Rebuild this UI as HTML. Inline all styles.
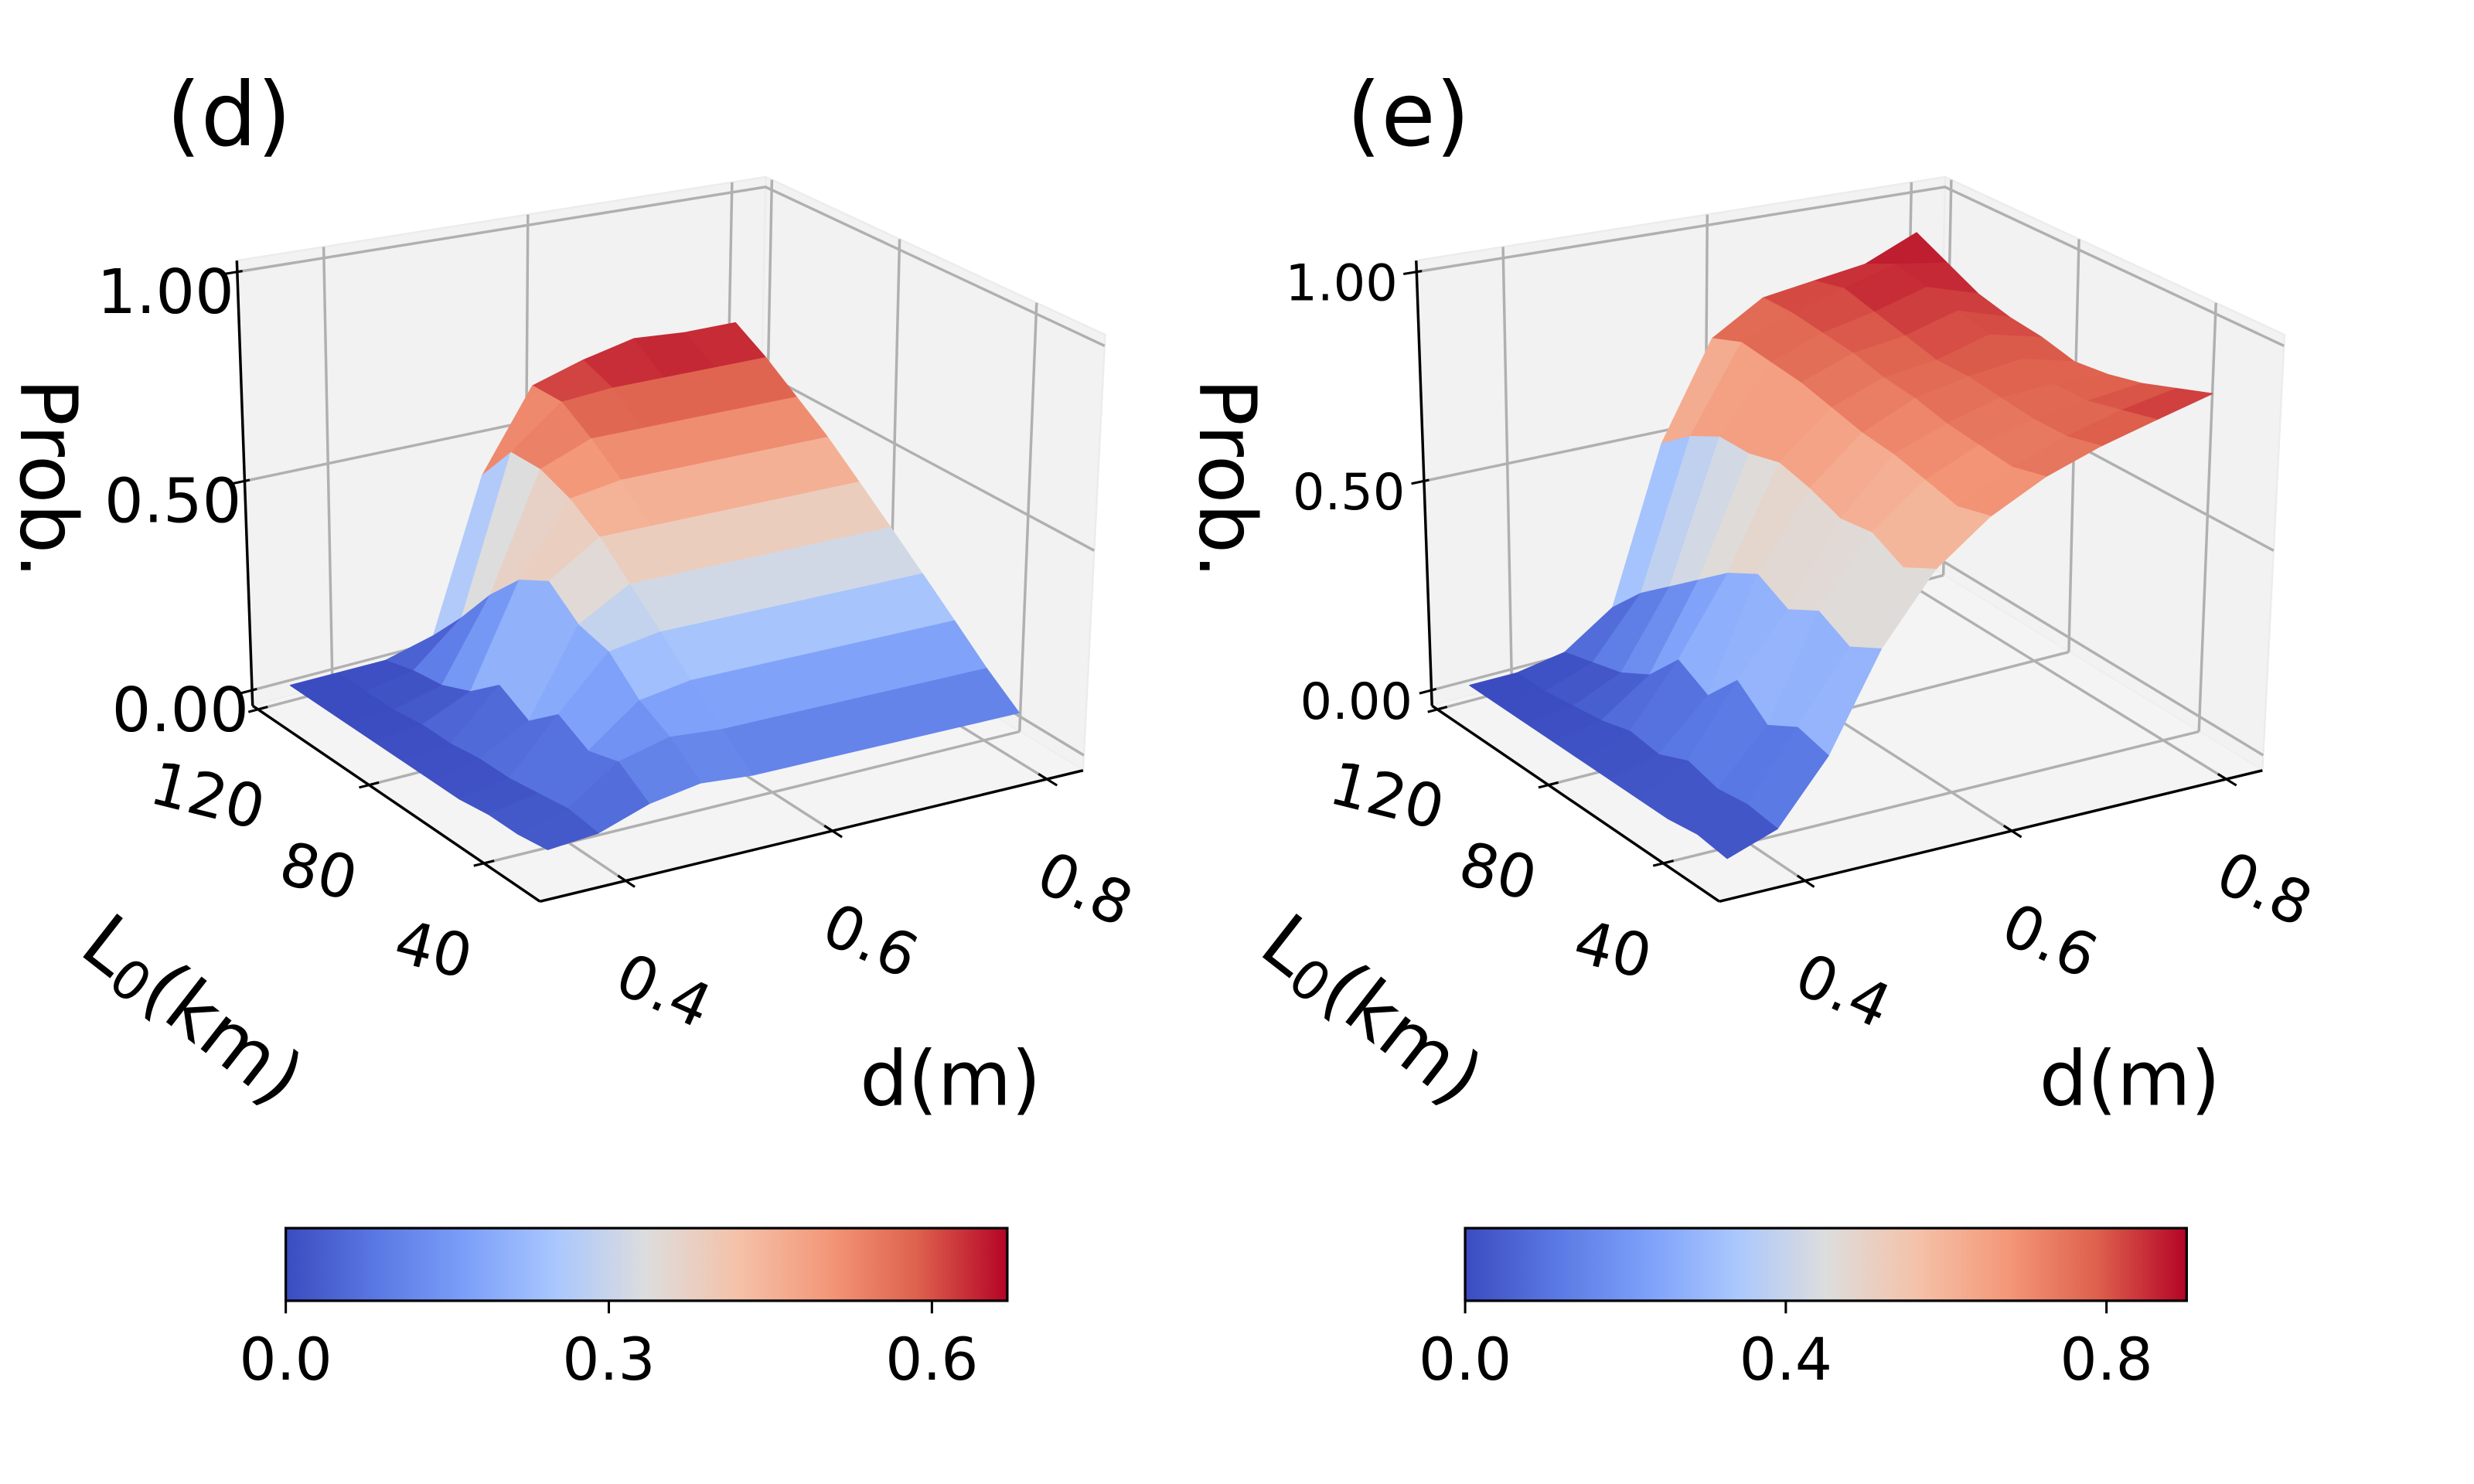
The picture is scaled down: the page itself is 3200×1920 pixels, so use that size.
<!DOCTYPE html>
<html>
<head>
<meta charset="utf-8">
<style>
html,body{margin:0;padding:0;background:#fff;}
svg{display:block;}
text{font-family:"DejaVu Sans","Liberation Sans",sans-serif;fill:#000;}
</style>
</head>
<body>
<svg id="chart" xmlns="http://www.w3.org/2000/svg" width="3200" height="1920" viewBox="0 0 1567 940">
<defs>
<linearGradient id="cwgrad" x1="0" y1="0" x2="1" y2="0"></linearGradient>
</defs>
<rect x="0" y="0" width="1567" height="940" fill="#ffffff"></rect>
</svg>
<script>
// ---- data ----
const dVals = [0.35, 0.40, 0.45, 0.50, 0.55, 0.60, 0.65, 0.70, 0.75, 0.80];
const L0Vals = [30, 40, 50, 60, 70, 80, 90, 100, 110, 120];
const probD = [
  [0.02,0.03,0.07,0.09,0.08,0.08,0.08,0.08,0.08,0.08],
  [0.01,0.04,0.12,0.15,0.14,0.14,0.14,0.14,0.14,0.14],
  [0.01,0.03,0.10,0.19,0.21,0.21,0.21,0.21,0.21,0.21],
  [0.00,0.02,0.14,0.26,0.28,0.28,0.28,0.28,0.28,0.28],
  [0.00,0.02,0.08,0.28,0.35,0.35,0.35,0.35,0.35,0.35],
  [0.00,0.01,0.12,0.34,0.42,0.42,0.42,0.42,0.42,0.42],
  [0.00,0.01,0.06,0.30,0.47,0.49,0.49,0.49,0.49,0.49],
  [0.00,0.00,0.03,0.22,0.50,0.55,0.55,0.55,0.55,0.55],
  [0.00,0.00,0.02,0.12,0.50,0.60,0.61,0.61,0.61,0.61],
  [0.00,0.00,0.00,0.03,0.40,0.60,0.64,0.67,0.66,0.66]
];
const probE = [
  [0.00,0.04,0.18,0.40,0.56,0.66,0.73,0.78,0.82,0.86],
  [0.01,0.05,0.20,0.36,0.52,0.64,0.71,0.76,0.80,0.83],
  [0.00,0.04,0.16,0.40,0.56,0.66,0.72,0.76,0.78,0.80],
  [0.00,0.06,0.22,0.36,0.55,0.68,0.73,0.77,0.78,0.78],
  [0.00,0.03,0.14,0.40,0.58,0.69,0.75,0.78,0.80,0.77],
  [0.00,0.04,0.18,0.36,0.60,0.71,0.76,0.78,0.82,0.79],
  [0.00,0.02,0.10,0.30,0.58,0.73,0.78,0.80,0.84,0.80],
  [0.00,0.01,0.06,0.24,0.58,0.74,0.79,0.82,0.86,0.82],
  [0.00,0.00,0.04,0.18,0.54,0.75,0.80,0.84,0.88,0.86],
  [0.00,0.00,0.02,0.10,0.48,0.72,0.80,0.82,0.84,0.90]
];
const dTicks = [0.4, 0.6, 0.8];
const dTickLabels = ["0.4", "0.6", "0.8"];
const LTicks = [40, 80, 120];
const LTickLabels = ["40", "80", "120"];
const zTicks = [0, 0.5, 1];
const zTickLabels = ["0.00", "0.50", "1.00"];
const cbTicksD = [0, 0.3, 0.6];
const cbTickLabelsD = ["0.0", "0.3", "0.6"];
const cbTicksE = [0, 0.4, 0.8];
const cbTickLabelsE = ["0.0", "0.4", "0.8"];

// axis limits
const dLim = [0.315, 0.833];
const LLim = [21, 122];
const zLim = [-0.037, 1.027];

// ---- colormap (coolwarm) ----
const cmStops = [[0,59,76,192],[0.125,90,120,227],[0.25,124,159,249],[0.375,170,199,253],[0.5,221,221,221],[0.625,244,194,169],[0.75,244,152,122],[0.875,222,97,77],[1,180,4,38]];
function cmap(v){
  v = Math.max(0, Math.min(1, v));
  for (let i=0;i<cmStops.length-1;i++){
    const a=cmStops[i], b=cmStops[i+1];
    if (v<=b[0]){
      const f=(v-a[0])/(b[0]-a[0]);
      return 'rgb('+Math.round(a[1]+(b[1]-a[1])*f)+','+Math.round(a[2]+(b[2]-a[2])*f)+','+Math.round(a[3]+(b[3]-a[3])*f)+')';
    }
  }
  return 'rgb(180,4,38)';
}

const NS = 'http://www.w3.org/2000/svg';
const svg = document.getElementById('chart');
function mk(tag, attrs, parent){
  const e = document.createElementNS(NS, tag);
  for (const k in attrs) e.setAttribute(k, attrs[k]);
  (parent || svg).appendChild(e);
  return e;
}

const grad = document.getElementById('cwgrad');
cmStops.forEach(s => {
  mk('stop', {offset: (s[0]*100)+'%', 'stop-color': 'rgb('+s[1]+','+s[2]+','+s[3]+')'}, grad);
});

// ---- projection (homography floor + top) ----
function makeH(A,B,C,D){
  const dx1=B[0]-C[0], dx2=D[0]-C[0], dx3=A[0]-B[0]+C[0]-D[0];
  const dy1=B[1]-C[1], dy2=D[1]-C[1], dy3=A[1]-B[1]+C[1]-D[1];
  const den=dx1*dy2-dx2*dy1;
  const g=(dx3*dy2-dx2*dy3)/den, h=(dx1*dy3-dx3*dy1)/den;
  const a=B[0]-A[0]+g*B[0], b=D[0]-A[0]+h*D[0], c=A[0];
  const d=B[1]-A[1]+g*B[1], e=D[1]-A[1]+h*D[1], f=A[1];
  return function(s,t){ const w=g*s+h*t+1; return [(a*s+b*t+c)/w,(d*s+e*t+f)/w]; };
}
const Hf = makeH([160,447],[480,362],[686,488],[342,571]);
const Ht = makeH([150,165],[485,112],[700,212],[334,270]);
function Pn(ox,s,t,zn){
  const f=Hf(s,t), tp=Ht(s,t);
  return [ox+f[0]+(tp[0]-f[0])*zn, f[1]+(tp[1]-f[1])*zn];
}
function sOf(d){ return (d-dLim[0])/(dLim[1]-dLim[0]); }
function tOf(L){ return (LLim[1]-L)/(LLim[1]-LLim[0]); }
function znOf(z){ return (z-zLim[0])/(zLim[1]-zLim[0]); }
function proj(ox,d,L,z){ return Pn(ox,sOf(d),tOf(L),znOf(z)); }
function pts(arr){ return arr.map(p=>p[0].toFixed(2)+','+p[1].toFixed(2)).join(' '); }

function drawPanel(ox, prob, panelName, letter, zFont, zOffX, zOffY){
  const g = mk('g', {});
  
  

  const lw = mk('polygon', {points: pts([Pn(ox,0,0,0),Pn(ox,1,0,0),Pn(ox,1,0,1),Pn(ox,0,0,1)]), fill:'#f2f2f2', stroke:'#ececec', 'stroke-width':1.2}, g);
  
  
  const rw = mk('polygon', {points: pts([Pn(ox,1,0,0),Pn(ox,1,1,0),Pn(ox,1,1,1),Pn(ox,1,0,1)]), fill:'#f2f2f2', stroke:'#ececec', 'stroke-width':1.2}, g);
  
  
  const fl = mk('polygon', {points: pts([Pn(ox,0,0,0),Pn(ox,1,0,0),Pn(ox,1,1,0),Pn(ox,0,1,0)]), fill:'#f4f4f4', stroke:'none'}, g);
  
  

  const gs = {stroke:'#b0b0b0', 'stroke-width':1.7, fill:'none'};
  dTicks.forEach(d => {
    const s = sOf(d);
    const a = mk('polyline', Object.assign({points: pts([Pn(ox,s,0,0),Pn(ox,s,1,0)])}, gs), g);
    
    
    const b = mk('polyline', Object.assign({points: pts([Pn(ox,s,0,0),Pn(ox,s,0,1)])}, gs), g);
    
    
  });
  LTicks.forEach(L => {
    const t = tOf(L);
    const a = mk('polyline', Object.assign({points: pts([Pn(ox,0,t,0),Pn(ox,1,t,0)])}, gs), g);
    
    
    const b = mk('polyline', Object.assign({points: pts([Pn(ox,1,t,0),Pn(ox,1,t,1)])}, gs), g);
    
    
  });
  zTicks.forEach(z => {
    const zn = znOf(z);
    const a = mk('polyline', Object.assign({points: pts([Pn(ox,0,0,zn),Pn(ox,1,0,zn),Pn(ox,1,1,zn)])}, gs), g);
    
    
  });

  const ax = {stroke:'#000', 'stroke-width':1.7, fill:'none'};
  const la = mk('polyline', Object.assign({points: pts([Pn(ox,0,0,0),Pn(ox,0,1,0)])}, ax), g);
  
  
  const da = mk('polyline', Object.assign({points: pts([Pn(ox,0,1,0),Pn(ox,1,1,0)])}, ax), g);
  
  
  const za = mk('polyline', Object.assign({points: pts([Pn(ox,0,0,0),Pn(ox,0,0,1)])}, ax), g);
  
  

  const vmax = Math.max(...prob.map(r => Math.max(...r)));
  const vmin = Math.min(...prob.map(r => Math.min(...r)));
  const quads = [];
  for (let i=0;i<L0Vals.length-1;i++){
    for (let j=0;j<dVals.length-1;j++){
      const zc = (prob[i][j]+prob[i][j+1]+prob[i+1][j]+prob[i+1][j+1])/4;
      const key = (tOf(L0Vals[i])+tOf(L0Vals[i+1]))/2 - (sOf(dVals[j])+sOf(dVals[j+1]))/2;
      quads.push({i, j, zc, key});
    }
  }
  quads.sort((a,b) => a.key - b.key);
  const sg = mk('g', {}, g);
  
  
  quads.forEach(q => {
    const i=q.i, j=q.j;
    const poly = [proj(ox,dVals[j],L0Vals[i],prob[i][j]), proj(ox,dVals[j+1],L0Vals[i],prob[i][j+1]), proj(ox,dVals[j+1],L0Vals[i+1],prob[i+1][j+1]), proj(ox,dVals[j],L0Vals[i+1],prob[i+1][j])];
    const col = cmap((q.zc-vmin)/(vmax-vmin));
    const p = mk('polygon', {points: pts(poly), fill: col, stroke: col, 'stroke-width': 0.7, 'stroke-linejoin':'round'}, sg);
    
    
  });

  const tk = {stroke:'#000', 'stroke-width':1.5};
  LTicks.forEach((L, k) => {
    const t = tOf(L);
    const a = Pn(ox,-0.02,t,0), b = Pn(ox,0.02,t,0);
    const m = mk('line', Object.assign({x1:a[0],y1:a[1],x2:b[0],y2:b[1]}, tk), g);
    
    
    const c = Pn(ox,0,t,0);
    const tx = mk('text', {x:c[0]-32, y:c[1]+55, 'font-size':38, 'text-anchor':'middle', 'dominant-baseline':'central', transform:'rotate(14 '+(c[0]-32)+' '+(c[1]+55)+')'}, g);
    tx.textContent = LTickLabels[k];
    
    
  });
  dTicks.forEach((d, k) => {
    const s = sOf(d);
    const a = Pn(ox,s,0.975,0), b = Pn(ox,s,1.03,0);
    const m = mk('line', Object.assign({x1:a[0],y1:a[1],x2:b[0],y2:b[1]}, tk), g);
    
    
    const c = Pn(ox,s,1,0);
    const tx = mk('text', {x:c[0]+24, y:c[1]+70, 'font-size':38, 'text-anchor':'middle', 'dominant-baseline':'central', transform:'rotate(24 '+(c[0]+24)+' '+(c[1]+70)+')'}, g);
    tx.textContent = dTickLabels[k];
    
    
  });
  zTicks.forEach((z, k) => {
    const zn = znOf(z);
    const a = Pn(ox,-0.025,0,zn), b = Pn(ox,0.01,0,zn);
    const m = mk('line', Object.assign({x1:a[0],y1:a[1],x2:b[0],y2:b[1]}, tk), g);
    
    
    const c = Pn(ox,0,0,zn);
    const tx = mk('text', {x:c[0]+zOffX, y:c[1]+zOffY, 'font-size':zFont, 'text-anchor':'end'}, g);
    tx.textContent = zTickLabels[k];
    
    
  });

  const tl = mk('text', {x:ox+145, y:92, 'font-size':56, 'text-anchor':'middle'}, g);
  tl.textContent = '(' + letter + ')';
  
  
  const pr = mk('text', {x:ox+30, y:303, 'font-size':50, 'text-anchor':'middle', 'dominant-baseline':'central', transform:'rotate(90 '+(ox+30)+' 303)'}, g);
  pr.textContent = 'Prob.';
  
  
  const dm = mk('text', {x:ox+602, y:700, 'font-size':48, 'text-anchor':'middle'}, g);
  dm.textContent = 'd(m)';
  
  
  const lt = mk('text', {x:ox+122, y:640, 'font-size':48, 'text-anchor':'middle', 'dominant-baseline':'central', transform:'rotate(38 '+(ox+122)+' 640)'}, g);
  
  
  const t1 = mk('tspan', {}, lt); t1.textContent = 'L';
  const t2 = mk('tspan', {'font-size':34, dy:10}, lt); t2.textContent = '0';
  const t3 = mk('tspan', {dy:-10}, lt); t3.textContent = '(km)';
}

function drawColorbar(x0, vmax, ticks, labels, name){
  const g = mk('g', {});
  
  
  const w = 457, y0 = 778, h = 46;
  const r = mk('rect', {x:x0, y:y0, width:w, height:h, fill:'url(#cwgrad)', stroke:'#000', 'stroke-width':1.6}, g);
  
  
  ticks.forEach((v, k) => {
    const x = x0 + v/vmax*w;
    const l = mk('line', {x1:x, y1:y0+h, x2:x, y2:y0+h+8, stroke:'#000', 'stroke-width':1.5}, g);
    
    
    const t = mk('text', {x:x, y:874, 'font-size':37, 'text-anchor':'middle'}, g);
    t.textContent = labels[k];
    
    
  });
}

drawPanel(0, probD, 'panel-d', 'd', 39, -2, 26);
drawPanel(747, probE, 'panel-e', 'e', 32, -12, 18);
const maxD = Math.max(...probD.map(r => Math.max(...r)));
const maxE = Math.max(...probE.map(r => Math.max(...r)));
drawColorbar(181, maxD, cbTicksD, cbTickLabelsD, 'colorbar-d');
drawColorbar(928, maxE, cbTicksE, cbTickLabelsE, 'colorbar-e');
</script>
</body>
</html>
